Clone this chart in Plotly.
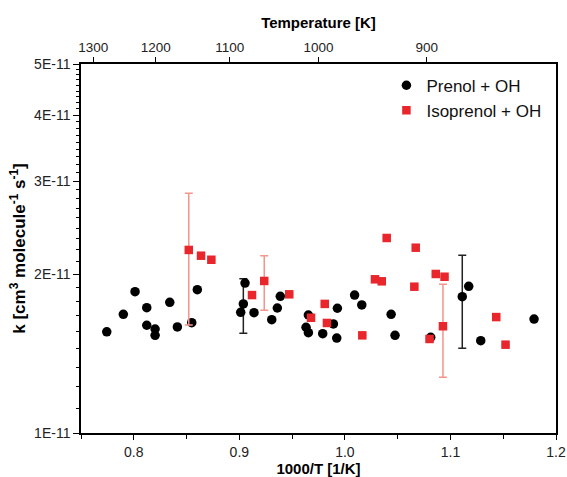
import plotly.graph_objects as go

# Prenol + OH
prenol_x = [0.7744, 0.7901, 0.8012, 0.8123, 0.8123, 0.8202, 0.8202, 0.8341, 0.8413, 0.8549,
            0.8602, 0.9013, 0.9038, 0.9054, 0.9139, 0.9307, 0.9360, 0.9388, 0.9654, 0.9632,
            0.9654, 0.9790, 0.9891, 0.9929, 0.9923, 1.0092, 1.0160, 1.0438, 1.0475, 1.0813,
            1.1112, 1.1173, 1.1287, 1.1792]
prenol_k = [1.555, 1.678, 1.852, 1.727, 1.600, 1.574, 1.531, 1.768, 1.588, 1.618,
            1.868, 1.693, 1.756, 1.923, 1.690, 1.639, 1.725, 1.815, 1.673, 1.586,
            1.549, 1.542, 1.609, 1.723, 1.513, 1.825, 1.748, 1.678, 1.531, 1.518,
            1.812, 1.896, 1.496, 1.644]
prenol_err_plus = [0, 0, 0, 0, 0, 0, 0, 0, 0, 0,
                   0, 0, 0.204, 0, 0, 0, 0, 0, 0, 0,
                   0, 0, 0, 0, 0, 0, 0, 0, 0, 0,
                   0.359, 0, 0, 0]
prenol_err_minus = [0, 0, 0, 0, 0, 0, 0, 0, 0, 0,
                    0, 0, 0.211, 0, 0, 0, 0, 0, 0, 0,
                    0, 0, 0, 0, 0, 0, 0, 0, 0, 0,
                    0.365, 0, 0, 0]

# Isoprenol + OH
iso_x = [0.8521, 0.8637, 0.8735, 0.9120, 0.9236, 0.9473, 0.9679, 0.9809, 0.9830, 1.0165,
         1.0285, 1.0349, 1.0396, 1.0671, 1.0658, 1.0861, 1.0944, 1.0929, 1.0802, 1.1434,
         1.1522]
iso_k = [2.222, 2.167, 2.129, 1.825, 1.941, 1.831, 1.653, 1.756, 1.616, 1.531,
         1.955, 1.938, 2.341, 2.244, 1.893, 2.001, 1.977, 1.593, 1.507, 1.658,
         1.470]
iso_err_plus = [0.622, 0, 0, 0, 0.226, 0, 0, 0, 0, 0,
                0, 0, 0, 0, 0, 0, 0, 0.320, 0, 0,
                0]
iso_err_minus = [0.620, 0, 0, 0, 0.233, 0, 0, 0, 0, 0,
                 0, 0, 0, 0, 0, 0, 0, 0.318, 0, 0,
                 0]

scale = 1e-11
y_major = [1, 2, 3, 4, 5]
y_major_text = ["1E-11", "2E-11", "3E-11", "4E-11", "5E-11"]
x_ticks = [0.8, 0.9, 1.0, 1.1, 1.2]
x_tick_text = ["0.8", "0.9", "1.0", "1.1", "1.2"]
x_minor = [0.75, 0.85, 0.95, 1.05, 1.15]
top_T = [1300, 1200, 1100, 1000, 900]
top_range = [0.7566, 1.2436]

FONT = "Liberation Sans, Arial, sans-serif"

y_minor = []
for a, b in zip(y_major[:-1], y_major[1:]):
    for i in range(1, 9):
        y_minor.append((a + (b - a) * i / 9) * scale)

fig = go.Figure()
fig.add_trace(go.Scatter(
    x=prenol_x, y=[v * scale for v in prenol_k], mode="markers", name="Prenol + OH",
    marker=dict(symbol="circle", size=9.5, color="black"),
    error_y=dict(type="data", symmetric=False,
                 array=[v * scale for v in prenol_err_plus],
                 arrayminus=[v * scale for v in prenol_err_minus],
                 color="#222222", thickness=1.5, width=4),
))
fig.add_trace(go.Scatter(
    x=iso_x, y=[v * scale for v in iso_k], mode="markers", name="Isoprenol + OH",
    marker=dict(symbol="square", size=8.5, color="#e8262b"),
    error_y=dict(type="data", symmetric=False,
                 array=[v * scale for v in iso_err_plus],
                 arrayminus=[v * scale for v in iso_err_minus],
                 color="#f3958c", thickness=1.5, width=4),
))
# invisible trace to register the top temperature axis
fig.add_trace(go.Scatter(
    x=[1000 / t for t in top_T], y=[3 * scale] * len(top_T), xaxis="x2",
    mode="markers", marker=dict(opacity=0), showlegend=False, hoverinfo="skip",
))

fig.update_layout(
    width=567, height=477,
    margin=dict(l=81, r=11, t=64, b=44),
    paper_bgcolor="white", plot_bgcolor="white",
    font=dict(family=FONT, size=14, color="#222222"),
    showlegend=True,
    legend=dict(x=0.643, y=0.99, xanchor="left", yanchor="top",
                font=dict(family=FONT, size=17, color="#111111"),
                bgcolor="rgba(0,0,0,0)", tracegroupgap=0),
    xaxis=dict(
        range=[0.75, 1.2], tickmode="array", tickvals=x_ticks, ticktext=x_tick_text,
        automargin=False,
        showgrid=False, zeroline=False, showline=True, linecolor="black", linewidth=1.5,
        ticks="outside", ticklen=5, tickwidth=1.2, tickcolor="black",
        minor=dict(tickmode="array", tickvals=x_minor, ticks="outside", ticklen=4,
                   tickwidth=1.2, tickcolor="black", showgrid=False),
        tickfont=dict(family=FONT, size=14, color="#222222"),
        title=dict(text="<b>1000/T [1/K]</b>", font=dict(family=FONT, size=15, color="black"),
                   standoff=2),
    ),
    xaxis2=dict(
        overlaying="x", side="top", range=top_range, tickmode="array",
        tickvals=[1000 / t for t in top_T], ticktext=[str(t) for t in top_T],
        automargin=False,
        showgrid=False, zeroline=False, showline=True, linecolor="black", linewidth=1.5,
        ticks="outside", ticklen=5, tickwidth=1.2, tickcolor="black",
        tickfont=dict(family=FONT, size=13.5, color="#222222"),
        title=dict(text="<b>Temperature [K]</b>", font=dict(family=FONT, size=15, color="black"),
                   standoff=8),
    ),
    yaxis=dict(
        type="log", range=[-11, -10.30103], tickmode="array",
        tickvals=[v * scale for v in y_major], ticktext=y_major_text,
        automargin=False,
        showgrid=False, zeroline=False, showline=True, linecolor="black", linewidth=1.5,
        mirror=True,
        ticks="outside", ticklen=6, tickwidth=1.2, tickcolor="black",
        minor=dict(tickmode="array", tickvals=y_minor, ticks="outside", ticklen=3,
                   tickwidth=1.2, tickcolor="black", showgrid=False),
        tickfont=dict(family=FONT, size=14, color="#222222"),
        title=dict(text="<b>k [cm<sup>3</sup> molecule<sup>-1</sup> s<sup>-1</sup>]</b>",
                   font=dict(family=FONT, size=17, color="black"), standoff=4),
    ),
)

fig.write_html("out.html", config={"displayModeBar": False},
               post_script="document.body.style.margin='0';document.body.style.overflow='hidden';")
